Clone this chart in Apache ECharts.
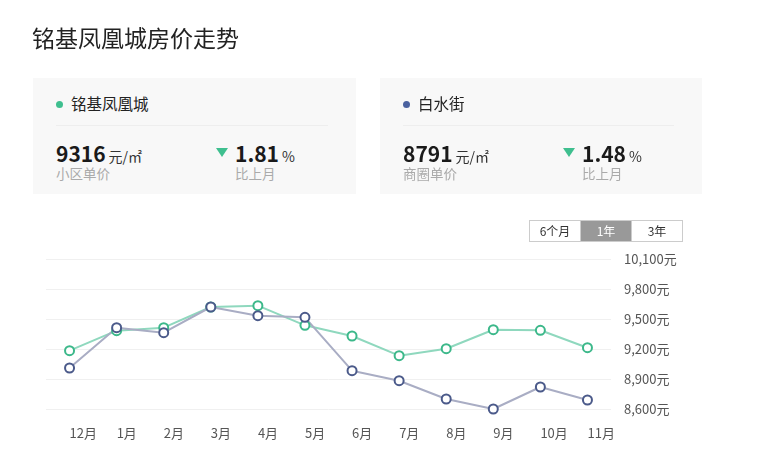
<!DOCTYPE html>
<html lang="zh-CN">
<head>
    <meta charset="UTF-8">
    <title>铭基凤凰城房价走势</title>
    <script src="https://cdn.jsdelivr.net/npm/echarts@6/dist/echarts.min.js" charset="utf-8"></script>
    <style>
        body { margin: 0; background: #fff; font-family: "Noto Sans CJK SC", "Noto Sans", sans-serif; color: #222; }
        .wrap { position: relative; width: 759px; height: 464px; overflow: hidden; }
        #main { position: absolute; left: 0; top: 0; width: 759px; height: 464px; }
        .title { position: absolute; left: 32px; top: 22px; font-size: 23px; line-height: 30px; color: #222; }
        .card { position: absolute; top: 78px; height: 116px; background: #f8f8f8; }
        .card .name { position: absolute; left: 23px; top: 14px; font-size: 15.5px; line-height: 22px; color: #222; }
        .card .dot { display: inline-block; width: 7px; height: 7px; border-radius: 50%; margin-right: 8px; vertical-align: 2px; }
        .card .line { position: absolute; left: 23px; right: 28px; top: 47px; border-top: 1px solid #eee; }
        .card .num { position: absolute; top: 62px; font-size: 21px; font-weight: bold; line-height: 26px; color: #1a1a1a; }
        .card .num span { font-size: 14px; font-weight: normal; color: #333; margin-left: 3px; }
        .card .sub { position: absolute; top: 86px; font-size: 13.5px; line-height: 18px; color: #aaa; }
        .card .tri { position: absolute; top: 70px; width: 0; height: 0; border-left: 6px solid transparent; border-right: 6px solid transparent; border-top: 9px solid #3fbf8f; }
        .btns { position: absolute; left: 529px; top: 220px; height: 20px; border: 1px solid #ccc; display: flex; font-size: 12px; }
        .btns div { width: 50px; line-height: 20px; text-align: center; color: #333; }
        .btns div + div { border-left: 1px solid #ccc; }
        .btns .on { background: #999; color: #fff; }
    </style>
</head>
<body>
<div class="wrap">
    <div id="main"></div>
    <div class="title">铭基凤凰城房价走势</div>

    <div class="card" style="left:33px;width:323px;">
        <div class="name"><i class="dot" style="background:#3fbf8f"></i>铭基凤凰城</div>
        <div class="line"></div>
        <div class="num" style="left:23px;">9316<span>元/㎡</span></div>
        <div class="sub" style="left:23px;">小区单价</div>
        <div class="tri" style="left:183px;"></div>
        <div class="num" style="left:202px;">1.81<span>%</span></div>
        <div class="sub" style="left:202px;">比上月</div>
    </div>

    <div class="card" style="left:380px;width:322px;">
        <div class="name"><i class="dot" style="background:#4b62a0"></i>白水街</div>
        <div class="line"></div>
        <div class="num" style="left:23px;">8791<span>元/㎡</span></div>
        <div class="sub" style="left:23px;">商圈单价</div>
        <div class="tri" style="left:183px;"></div>
        <div class="num" style="left:202px;">1.48<span>%</span></div>
        <div class="sub" style="left:202px;">比上月</div>
    </div>

    <div class="btns">
        <div>6个月</div>
        <div class="on">1年</div>
        <div>3年</div>
    </div>
</div>
<script>
    // 月份
    var months = ['12月', '1月', '2月', '3月', '4月', '5月', '6月', '7月', '8月', '9月', '10月', '11月'];
    // 小区均价
    var communityPrice = [9183, 9383, 9413, 9620, 9633, 9437, 9330, 9133, 9203, 9393, 9387, 9213];
    // 商圈均价
    var districtPrice = [9010, 9413, 9363, 9620, 9533, 9517, 8983, 8883, 8700, 8600, 8820, 8690];
    // y轴刻度
    var yMin = 8600, yMax = 10100, yStep = 300;

    var myChart = echarts.init(document.getElementById('main'));
    var option = {
        animation: false,
        textStyle: {fontFamily: '"Noto Sans CJK SC", sans-serif'},
        grid: {
            left: 46,
            right: 148,
            top: 259,
            bottom: 55
        },
        xAxis: {
            type: 'category',
            data: months,
            boundaryGap: true,
            axisLine: {show: false},
            axisTick: {show: false},
            axisLabel: {
                align: 'left',
                margin: 18,
                fontSize: 13,
                color: '#555'
            }
        },
        yAxis: {
            type: 'value',
            position: 'right',
            min: yMin,
            max: yMax,
            interval: yStep,
            axisLine: {show: false},
            axisTick: {show: false},
            axisLabel: {
                margin: 13,
                fontSize: 13,
                color: '#555',
                formatter: function (v) {
                    return v.toLocaleString('en-US') + '元';
                }
            },
            splitLine: {
                lineStyle: {color: '#f0f0f0'}
            }
        },
        series: [{
            name: '铭基凤凰城',
            type: 'line',
            data: communityPrice,
            symbol: 'emptyCircle',
            symbolSize: 9,
            clip: false,
            lineStyle: {color: '#8fd8be', width: 2},
            itemStyle: {color: '#3cb88a', borderWidth: 2}
        }, {
            name: '白水街',
            type: 'line',
            data: districtPrice,
            symbol: 'emptyCircle',
            symbolSize: 9,
            clip: false,
            lineStyle: {color: '#a9adc4', width: 2},
            itemStyle: {color: '#4b5a8a', borderWidth: 2}
        }]
    };
    myChart.setOption(option);
</script>
</body>
</html>
